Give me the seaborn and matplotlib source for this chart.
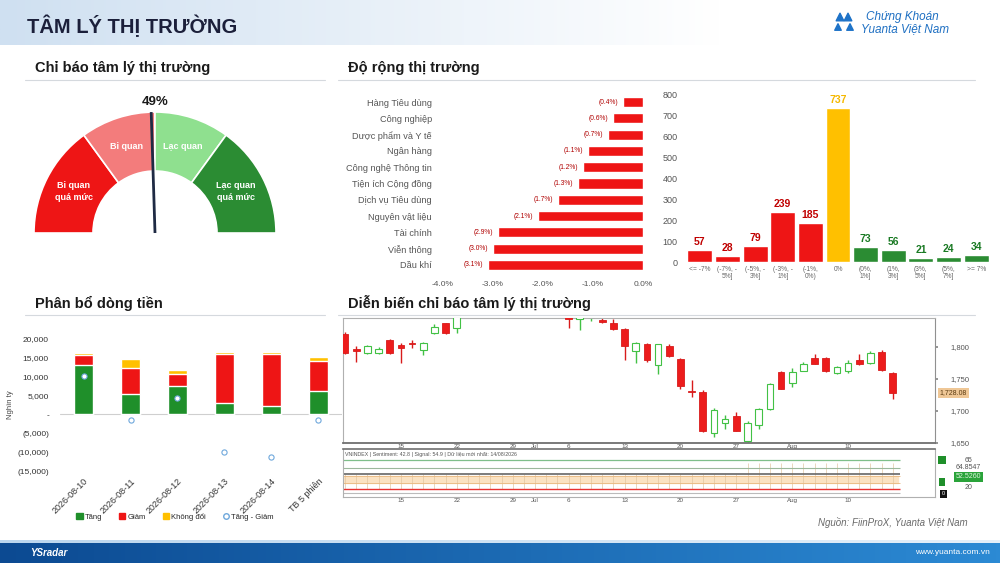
"""
Tam ly thi truong - dashboard 4 khung (gauge, nganh, do rong, dong tien, nen).
"""
import numpy as np
import pandas as pd
import matplotlib.pyplot as plt
import matplotlib.transforms as mtransforms
import seaborn as sns
from matplotlib.patches import Wedge, Patch
from matplotlib.lines import Line2D
from matplotlib.colors import LinearSegmentedColormap

# ---- du lieu ----
sentiment_pct = 49
zone_bounds = [0, 30, 50, 70, 100]
zone_labels = ["Bi quan\nquá mức", "Bi quan", "Lạc quan", "Lạc quan\nquá mức"]

sectors = ["Hàng Tiêu dùng", "Công nghiệp", "Dược phẩm và Y tế", "Ngân hàng",
           "Công nghệ Thông tin", "Tiện ích Cộng đồng", "Dịch vụ Tiêu dùng",
           "Nguyên vật liệu", "Tài chính", "Viễn thông", "Dầu khí"]
sector_chg = [-0.4, -0.6, -0.7, -1.1, -1.2, -1.3, -1.7, -2.1, -2.9, -3.0, -3.1]

breadth_bins = ["<= -7%", "(-7%, -\n5%]", "(-5%, -\n3%]", "(-3%, -\n1%]", "(-1%,\n0%)", "0%",
                "(0%,\n1%]", "(1%,\n3%]", "(3%,\n5%]", "(5%,\n7%]", ">= 7%"]
breadth_count = [57, 28, 79, 239, 185, 737, 73, 56, 21, 24, 34]

flow_dates = ["2026-08-10", "2026-08-11", "2026-08-12", "2026-08-13", "2026-08-14", "TB 5 phiên"]
flow_up = [13000, 5400, 7500, 3100, 2300, 6300]
flow_down = [2700, 6800, 3200, 13000, 13700, 7800]
flow_flat = [500, 2400, 1100, 500, 450, 1000]

days = pd.bdate_range("2026-06-08", "2026-08-14")
opens = [1821, 1797, 1790, 1791, 1811, 1803, 1807, 1796, 1822, 1837,
         1829, 1848, 1858, 1866, 1860, 1871, 1878, 1870, 1876, 1868,
         1861, 1843, 1847, 1842, 1838, 1828, 1793, 1805, 1772, 1802,
         1782, 1732, 1730, 1666, 1682, 1692, 1653, 1678, 1703, 1761,
         1743, 1763, 1783, 1783, 1759, 1763, 1780, 1775, 1792, 1760]
highs = [1823, 1802, 1803, 1800, 1812, 1807, 1811, 1808, 1836, 1838,
         1850, 1862, 1870, 1872, 1874, 1883, 1882, 1880, 1879, 1870,
         1863, 1860, 1858, 1846, 1843, 1829, 1808, 1806, 1805, 1804,
         1783, 1748, 1733, 1704, 1694, 1699, 1684, 1705, 1744, 1763,
         1767, 1776, 1789, 1784, 1771, 1780, 1789, 1793, 1795, 1761]
lows = [1789, 1777, 1789, 1789, 1789, 1775, 1798, 1787, 1820, 1821,
        1822, 1845, 1852, 1856, 1857, 1866, 1864, 1865, 1861, 1855,
        1830, 1827, 1840, 1838, 1827, 1780, 1775, 1776, 1758, 1785,
        1734, 1722, 1667, 1660, 1672, 1668, 1652, 1672, 1701, 1734,
        1737, 1762, 1773, 1761, 1758, 1759, 1772, 1773, 1763, 1718]
closes = [1790, 1793, 1801, 1797, 1790, 1799, 1805, 1806, 1831, 1822,
          1848, 1858, 1866, 1860, 1871, 1878, 1870, 1876, 1868, 1861,
          1843, 1858, 1855, 1839, 1828, 1802, 1806, 1779, 1804, 1786,
          1739, 1730, 1668, 1701, 1688, 1669, 1681, 1703, 1742, 1735,
          1761, 1774, 1774, 1762, 1768, 1775, 1773, 1791, 1764, 1728.08]
tick_days = ["2026-06-15", "2026-06-22", "2026-06-29", "2026-07-01", "2026-07-06",
             "2026-07-13", "2026-07-20", "2026-07-27", "2026-08-03", "2026-08-10"]
tick_names = ["15", "22", "29", "Jul", "6", "13", "20", "27", "Aug", "10"]
osc_levels = [65, 52.6, 43.3, 20]
osc_band = [29.3, 40.2]

RED, PINK, LGREEN, GREEN, YELLOW = "#ee1515", "#f37c7c", "#8fe08f", "#2b8c33", "#ffc000"
W, H = 1000, 563

sns.set_theme(style="white")
plt.rcParams["font.family"] = ["Liberation Sans", "DejaVu Sans"]

fig = plt.figure(figsize=(10, 5.63), dpi=100)


def add_ax(x0, y0, x1, y1, **kw):
    return fig.add_axes([x0 / W, 1 - y1 / H, (x1 - x0) / W, (y1 - y0) / H], **kw)


# fond, en-tete, pied
bg = add_ax(0, 0, W, H, zorder=-10)
cm_head = LinearSegmentedColormap.from_list("h", ["#cfe0f1", "#ffffff"])
cm_foot = LinearSegmentedColormap.from_list("f", ["#0c4a92", "#2c8ad4"])
grad = np.linspace(0, 1, 256)[None, :]
bg.imshow(grad, extent=[0, 720, 45, 0], cmap=cm_head, aspect="auto")
bg.imshow(grad, extent=[0, W, H, 543], cmap=cm_foot, aspect="auto")
bg.imshow(grad, extent=[0, W, 543, 540], cmap=LinearSegmentedColormap.from_list("l", ["#bcd6ee", "#e4eff9"]),
          aspect="auto")
bg.set_xlim(0, W)
bg.set_ylim(H, 0)
bg.axis("off")

bg.text(27, 26, "TÂM LÝ THỊ TRƯỜNG", fontsize=14.5, fontweight="bold", color="#1b1f3a", va="center")
bg.scatter([840, 848, 838, 850], [17, 17, 27, 27], marker="^", s=[30, 30, 22, 22], color="#1e73c8")
bg.text(866, 17, "Chứng Khoán", fontsize=8.5, style="italic", color="#1e6fc2", va="center")
bg.text(861, 29, "Yuanta Việt Nam", fontsize=8.5, style="italic", color="#1e6fc2", va="center")
bg.text(30, 553, "YSradar", fontsize=7, style="italic", fontweight="bold", color="white", va="center")
bg.text(990, 553, "www.yuanta.com.vn", fontsize=6, color="white", va="center", ha="right")
bg.text(968, 522, "Nguồn: FiinProX, Yuanta Việt Nam", fontsize=7, style="italic", color="#6a6a6a",
        ha="right", va="center")

for txt, x, y, x1 in [("Chỉ báo tâm lý thị trường", 35, 68, 325), ("Độ rộng thị trường", 348, 68, 975),
                      ("Phân bổ dòng tiền", 35, 303, 325),
                      ("Diễn biến chỉ báo tâm lý thị trường", 348, 303, 975)]:
    bg.text(x, y, txt, fontsize=10.5, fontweight="bold", color="#1a1a1a", va="center")
    bg.plot([x - 10, x1], [y + 12, y + 12], color="#d5d9de", lw=0.8)

# ---- gauge ----
ax_g = add_ax(25, 90, 290, 240)
ax_g.set_xlim(-130, 135)
ax_g.set_ylim(-7, 143)
ax_g.axis("off")
zone_cols = [RED, PINK, LGREEN, GREEN]
for i, (lab, col) in enumerate(zip(zone_labels, zone_cols)):
    a0 = 180 - zone_bounds[i + 1] * 1.8
    a1 = 180 - zone_bounds[i] * 1.8
    ax_g.add_patch(Wedge((0, 0), 121, a0, a1, width=59, facecolor=col, edgecolor="white", lw=1.2))
    mid = np.deg2rad((a0 + a1) / 2)
    ax_g.text(91 * np.cos(mid), 91 * np.sin(mid), lab, ha="center", va="center",
              fontsize=6.5, color="white", fontweight="bold", linespacing=1.4)
ang = np.deg2rad(180 - sentiment_pct * 1.8)
ax_g.plot([0, 121 * np.cos(ang)], [0, 121 * np.sin(ang)], color="#1f2a44", lw=2, solid_capstyle="butt")
ax_g.text(0, 131, f"{sentiment_pct}%", ha="center", va="center", fontsize=9.5, fontweight="bold",
          color="#1a1a1a")

# ---- nganh ----
ax_s = add_ax(443, 94, 643, 273)
sns.barplot(x=sector_chg, y=sectors, orient="h", color=RED, saturation=1, width=0.62, ax=ax_s)
ax_s.set_xlim(-4, 0)
ax_s.set_xticks([-4, -3, -2, -1, 0])
ax_s.set_xticklabels([f"{v:.1f}%" for v in [-4, -3, -2, -1, 0]])
ax_s.tick_params(axis="x", labelsize=6, colors="#555555", length=0, pad=6)
ax_s.tick_params(axis="y", labelsize=6.6, colors="#555555", length=0, pad=8)
for i, v in enumerate(sector_chg):
    ax_s.text(v - 0.1, i, f"({abs(v):.1f}%)", ha="right", va="center", fontsize=4.8, color="#b00000")
sns.despine(ax=ax_s, left=True, bottom=True)

# ---- do rong ----
ax_b = add_ax(686, 95, 990, 262)
bcols = [RED] * 5 + [YELLOW] + [GREEN] * 5
lcols = ["#c00000"] * 5 + ["#f5b800"] + ["#1a7a24"] * 5
sns.barplot(x=breadth_bins, y=breadth_count, hue=breadth_bins, palette=bcols, legend=False,
            saturation=1, width=0.9, ax=ax_b)
ax_b.set_ylim(0, 800)
ax_b.set_xlim(-0.5, 10.5)
ax_b.set_yticks(range(0, 900, 100))
ax_b.tick_params(axis="y", labelsize=6.5, colors="#555555", length=0, pad=6)
ax_b.tick_params(axis="x", labelsize=4.8, colors="#666666", length=0, pad=3)
for t in ax_b.get_xticklabels():
    t.set_linespacing(1.0)
for i, v in enumerate(breadth_count):
    ax_b.text(i, v + 14, str(v), ha="center", va="bottom", fontsize=7.5, fontweight="bold",
              color=lcols[i], clip_on=False)
ax_b.set_xlabel("")
ax_b.set_ylabel("")
sns.despine(ax=ax_b, left=True, bottom=True)

# ---- dong tien ----
ax_f = add_ax(60, 339, 342, 471)
up = np.array(flow_up)
down = np.array(flow_down)
flat = np.array(flow_flat)
sns.barplot(x=flow_dates, y=up + down + flat, color=YELLOW, saturation=1, width=0.4, ax=ax_f)
sns.barplot(x=flow_dates, y=up + down, color=RED, saturation=1, width=0.4, ax=ax_f)
sns.barplot(x=flow_dates, y=up, color="#1f8f2a", saturation=1, width=0.4, ax=ax_f)
ax_f.axhline(0, color="#cfcfcf", lw=0.8, zorder=0)
sns.scatterplot(x=np.arange(len(flow_dates)), y=up - down, marker="o", s=14, color="white",
                edgecolor="#6fa8dc", linewidth=0.8, ax=ax_f, zorder=5)
ax_f.set_ylim(-15000, 20000)
ax_f.set_xlim(-0.5, 5.5)
ax_f.set_yticks(range(-15000, 20001, 5000))
ax_f.set_yticklabels(["-" if v == 0 else (f"({abs(v):,})" if v < 0 else f"{v:,}")
                      for v in range(-15000, 20001, 5000)])
ax_f.set_xticks(range(len(flow_dates)))
ax_f.set_xticklabels(flow_dates, rotation=45, ha="right", rotation_mode="anchor")
ax_f.tick_params(axis="y", labelsize=6, colors="#333333", length=0, pad=8)
ax_f.tick_params(axis="x", labelsize=6.5, colors="#333333", length=0, pad=4)
ax_f.set_xlabel("")
ax_f.set_ylabel("")
sns.despine(ax=ax_f, left=True, bottom=True)
bg.text(11, 405, "Nghìn tỷ", rotation=90, fontsize=5.5, color="#444444", ha="center", va="center")
handles = [Patch(color="#1f8f2a"), Patch(color=RED), Patch(color=YELLOW),
           Line2D([], [], marker="o", ls="", markerfacecolor="white", markeredgecolor="#6fa8dc", ms=4)]
fig.legend(handles, ["Tăng", "Giảm", "Không đổi", "Tăng - Giảm"], loc="center",
           bbox_to_anchor=(175 / W, 1 - 517 / H), ncol=4, frameon=False, fontsize=5.5,
           handlelength=0.8, handleheight=0.8, handletextpad=0.3, columnspacing=2.2)

# ---- nen ----
xi = np.arange(len(days))
o, hi, lo, c = map(np.array, (opens, highs, lows, closes))
rising = c >= o
ax_c = add_ax(343, 318, 935, 443)
ax_c.vlines(xi[~rising], lo[~rising], hi[~rising], color="#d81b1b", lw=1)
ax_c.vlines(xi[rising], lo[rising], hi[rising], color="#42c145", lw=1)
ax_c.bar(xi[~rising], (o - c)[~rising], bottom=c[~rising], width=0.6, color="#ec1c1c",
         edgecolor="#d81b1b", lw=0.6, zorder=3)
ax_c.bar(xi[rising], (c - o)[rising], bottom=o[rising], width=0.6, color="white",
         edgecolor="#42c145", lw=0.8, zorder=3)
ax_c.set_xlim(-0.18, 52.77)
ax_c.set_ylim(1650, 1845.3)
ax_c.yaxis.tick_right()
ax_c.set_yticks([1650, 1700, 1750, 1800])
ax_c.set_yticklabels([f"{v:,}" for v in [1650, 1700, 1750, 1800]])
ax_c.tick_params(axis="y", labelsize=5.5, colors="#555555", length=2, pad=9, color="#888888")
tick_pos = [list(days).index(pd.Timestamp(d)) for d in tick_days]
ax_c.set_xticks(tick_pos)
ax_c.set_xticklabels(tick_names)
ax_c.tick_params(axis="x", labelsize=4.5, colors="#555555", length=2, pad=0.5, direction="in",
                 color="#555555")
for sp in ax_c.spines.values():
    sp.set_color("#b0b0b0")
    sp.set_linewidth(0.8)
ax_c.spines["bottom"].set_color("#707070")
ax_c.spines["bottom"].set_linewidth(1.3)
ax_c.spines["right"].set_color("#909090")
blend_c = mtransforms.blended_transform_factory(ax_c.transAxes, ax_c.transData)
ax_c.text(1.008, c[-1], f"{c[-1]:,.2f}", transform=blend_c, fontsize=5, color="#5a3a10",
          va="center", ha="left", bbox=dict(boxstyle="square,pad=0.25", fc="#efc796", ec="none"))

# ---- chi bao ----
ax_o = add_ax(343, 449, 935, 497)
ax_o.set_xlim(-0.18, 52.77)
ax_o.set_ylim(7.5, 82.1)
osc_top = [43.3] * 36 + [60] * 14
ax_o.vlines(xi, 20, osc_top, color="#e2c6a2", lw=0.5, zorder=1)
ax_o.axhspan(osc_band[0], osc_band[1], xmin=0, xmax=49.6 / 52.95, color="#fbe2c2", zorder=0)
ax_o.hlines(osc_band, -0.18, 49.6, color="#e9b77f", lw=0.6)
ax_o.hlines(osc_levels, -0.18, 49.6, color=["#7fbf8a", "#9cb89c", "#666666", "#e83030"],
            lw=[0.9, 0.8, 1.2, 1.0])
ax_o.hlines(13.8, -0.18, 49.6, color="#bbbbbb", lw=0.8)
ax_o.text(0, 74.3, "VNINDEX | Sentiment: 42.8 | Signal: 54.9 | Dữ liệu mới nhất: 14/08/2026",
          fontsize=3.8, color="#555555", va="center")
ax_o.yaxis.tick_right()
ax_o.set_yticks([])
ax_o.set_xticks(tick_pos)
ax_o.set_xticklabels(tick_names)
ax_o.tick_params(axis="x", labelsize=4.5, colors="#555555", length=2, pad=1, direction="in",
                 color="#555555")
for sp in ax_o.spines.values():
    sp.set_color("#b0b0b0")
    sp.set_linewidth(0.8)
ax_o.spines["top"].set_color("#707070")
ax_o.spines["top"].set_linewidth(1.2)
blend_o = mtransforms.blended_transform_factory(ax_o.transAxes, ax_o.transData)
ax_o.text(1.008, 65, "   ", transform=blend_o, fontsize=4, va="center",
          bbox=dict(boxstyle="square,pad=0.3", fc="#1f8f2a", ec="none"))
ax_o.text(1.05, 65, "65", transform=blend_o, fontsize=5, color="#555555", va="center")
ax_o.text(1.035, 52.6, "64.8547", transform=blend_o, fontsize=5, color="#555555", va="center")
ax_o.text(1.035, 38.6, "52.5260", transform=blend_o, fontsize=5, color="#dff5df", va="center",
          bbox=dict(boxstyle="square,pad=0.2", fc="#2aa33a", ec="none"))
ax_o.text(1.008, 30.8, "   ", transform=blend_o, fontsize=4, va="center",
          bbox=dict(boxstyle="square,pad=0.2", fc="#1f8f2a", ec="none"))
ax_o.text(1.05, 21.5, "20", transform=blend_o, fontsize=5, color="#555555", va="center")
ax_o.text(1.012, 12.2, "0", transform=blend_o, fontsize=4, color="white", va="center",
          bbox=dict(boxstyle="square,pad=0.3", fc="#111111", ec="none"))

fig.savefig("out.png", dpi=100)
